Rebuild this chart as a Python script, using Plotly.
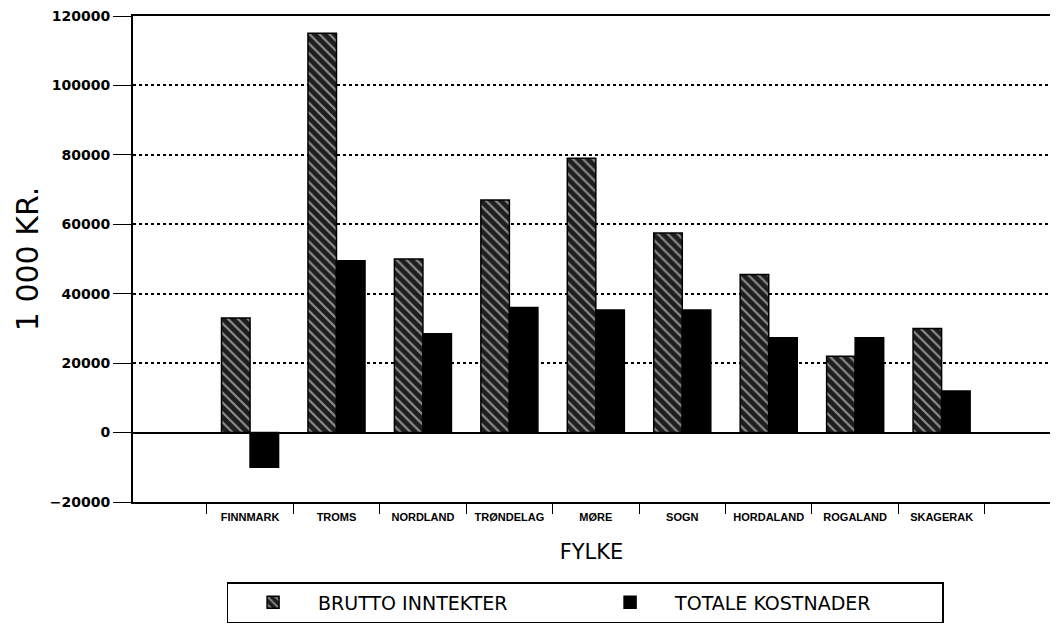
import plotly.graph_objects as go

categories = ["FINNMARK", "TROMS", "NORDLAND", "TRØNDELAG", "MØRE",
              "SOGN", "HORDALAND", "ROGALAND", "SKAGERAK"]
brutto_inntekter = [33000, 115000, 50000, 67000, 79000, 57500, 45500, 22000, 30000]
totale_kostnader = [-10000, 49500, 28500, 36000, 35300, 35300, 27300, 27300, 12000]
y_ticks = [-20000, 0, 20000, 40000, 60000, 80000, 100000, 120000]

fig = go.Figure()
fig.add_trace(go.Bar(
    x=categories, y=brutto_inntekter, name="BRUTTO INNTEKTER",
    marker=dict(color="#1a1a1a", line=dict(color="black", width=1.5),
                pattern=dict(shape="\\", fgcolor="white", bgcolor="#1e1e1e",
                             size=7, solidity=0.3)),
))
fig.add_trace(go.Bar(
    x=categories, y=totale_kostnader, name="TOTALE KOSTNADER",
    marker=dict(color="black", line=dict(color="black", width=1.5)),
))

fig.update_layout(
    width=1042, height=615,
    margin=dict(l=125, r=0, t=8, b=121),
    paper_bgcolor="white", plot_bgcolor="white",
    barmode="group", bargap=0.34, bargroupgap=0.0,
    font=dict(family="DejaVu Sans, Arial, sans-serif", color="black"),
    showlegend=True,
    legend=dict(
        orientation="h", x=0.493, xanchor="center", y=-0.165, yanchor="top",
        font=dict(size=19, family="DejaVu Sans, Arial, sans-serif"),
        bordercolor="black", borderwidth=1.5, bgcolor="white",
        itemwidth=80, entrywidth=262, traceorder="normal",
    ),
)

fig.update_xaxes(
    type="category", range=[-1.354, 9.254], automargin=False,
    tickson="boundaries", ticks="outside", ticklen=10, tickcolor="black",
    ticklabelstandoff=4, tickangle=0,
    tickfont=dict(size=11, weight="bold", family="Liberation Sans, Arial, sans-serif"),
    showline=True, linecolor="black", linewidth=2, mirror=True,
    showgrid=False,
    title=dict(text="FYLKE", font=dict(size=21), standoff=22),
)
fig.update_yaxes(
    range=[-20000, 120000], tickvals=y_ticks, tickformat="d", automargin=False,
    ticks="outside", ticklen=18, tickcolor="black", ticklabeloverflow="allow",
    tickfont=dict(size=14, weight="bold", family="DejaVu Sans, Arial, sans-serif"),
    showline=True, linecolor="black", linewidth=2,
    showgrid=True, gridcolor="black", griddash="dot", gridwidth=1.5,
    zeroline=True, zerolinecolor="black", zerolinewidth=2,
    title=dict(text="1 000 KR.", font=dict(size=30), standoff=2),
)

fig.write_html("out.html")
